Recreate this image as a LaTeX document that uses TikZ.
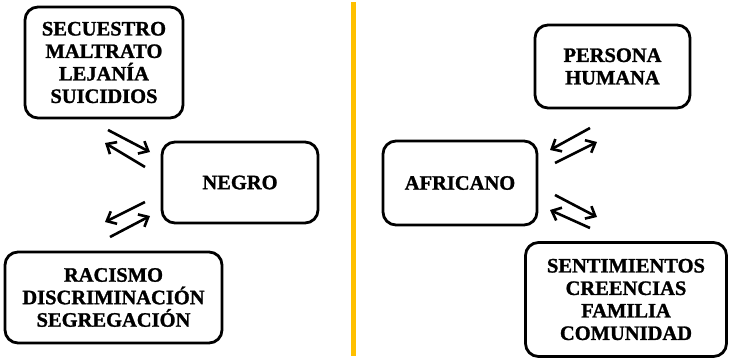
\documentclass[tikz,border=0pt]{standalone}
\usepackage{fontspec}
\setmainfont{Liberation Serif}[BoldFeatures={FakeBold=1.3}]
\usepackage{tikz}
\usetikzlibrary{arrows.meta}
\definecolor{linea}{RGB}{255,192,0}

\begin{document}
\begin{tikzpicture}[x=1pt,y=-1pt,
  caja/.style={draw,line width=2.8pt,rounded corners=13pt,align=center,
    font=\bfseries\fontsize{20.5}{22.5}\selectfont,inner sep=0pt},
  flecha/.style={line width=2.6pt,-{Straight Barb[length=8pt,width=14pt,line width=2.6pt]}},
]
\useasboundingbox (0,0) rectangle (729,362);
% cajas
\node[caja,minimum width=158pt,minimum height=111pt] (tl) at (104,62.5)
  {SECUESTRO\\MALTRATO\\LEJANÍA\\SUICIDIOS};
\node[caja,minimum width=156pt,minimum height=81pt] (negro) at (240,182.5) {NEGRO};
\node[caja,minimum width=217pt,minimum height=91pt] (rac) at (113.5,297.5)
  {RACISMO\\DISCRIMINACIÓN\\SEGREGACIÓN};
\node[caja,minimum width=154pt,minimum height=84pt] (afr) at (460,183) {AFRICANO};
\node[caja,minimum width=155pt,minimum height=83pt] (pers) at (612.5,66.5)
  {PERSONA\\HUMANA};
\node[caja,minimum width=201pt,minimum height=114pt] (sent) at (626,299.5)
  {SENTIMIENTOS\\CREENCIAS\\FAMILIA\\COMUNIDAD};
% linea divisoria
\coordinate (arriba) at (353,2);
\coordinate (abajo) at (353,356);
\draw[linea,line width=5pt] (arriba) -- (abajo);
% flechas izquierda
\coordinate (a1) at (108,130); \coordinate (a2) at (150,152);
\coordinate (a3) at (145,167); \coordinate (a4) at (105,143);
\coordinate (b1) at (145,202); \coordinate (b2) at (105,222);
\coordinate (b3) at (110,237); \coordinate (b4) at (150,216);
% flechas derecha
\coordinate (c1) at (590,128); \coordinate (c2) at (550,150);
\coordinate (c3) at (555,163); \coordinate (c4) at (597,142);
\coordinate (d1) at (555,195); \coordinate (d2) at (597,217);
\coordinate (d3) at (590,228); \coordinate (d4) at (550,210);
\foreach \p/\q in {a1/a2,a3/a4,b1/b2,b3/b4,c1/c2,c3/c4,d1/d2,d3/d4}
  \draw[flecha] (\p) -- (\q);
\end{tikzpicture}
\end{document}
